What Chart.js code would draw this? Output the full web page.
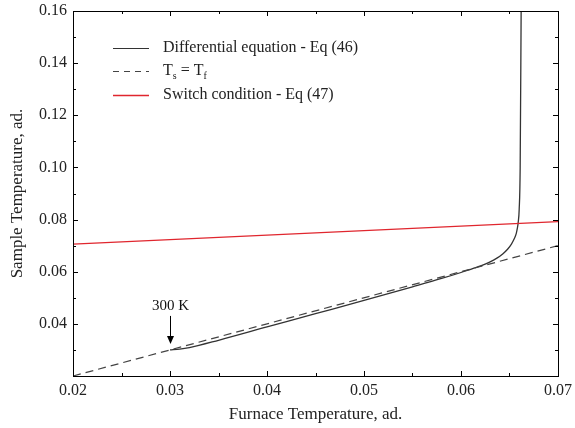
<!DOCTYPE html>
<html><head><meta charset="utf-8">
<script src="https://cdn.jsdelivr.net/npm/chart.js@4/dist/chart.umd.min.js"></script>
<style>html,body{margin:0;padding:0;background:#fff;}canvas{display:block;}</style>
</head><body>
<canvas id="c" width="575" height="428"></canvas>
<script>
// ---- data ----
const xTicks = [0.02, 0.03, 0.04, 0.05, 0.06, 0.07];
const yTicks = [0.04, 0.06, 0.08, 0.10, 0.12, 0.14, 0.16];
const diffX = [0.0300, 0.0310, 0.0320, 0.0350, 0.0400, 0.0450, 0.0500, 0.0550, 0.0580, 0.0600, 0.0612, 0.0621, 0.0629, 0.0637, 0.0643, 0.0648, 0.0652, 0.0655, 0.0657, 0.0658, 0.0659, 0.0660, 0.0661, 0.0662];
const diffY = [0.0300, 0.0303, 0.0309, 0.0337, 0.0388, 0.0439, 0.0490, 0.0542, 0.0574, 0.0597, 0.0612, 0.0623, 0.0636, 0.0652, 0.0668, 0.0686, 0.0706, 0.0727, 0.0747, 0.0765, 0.0790, 0.0840, 0.1000, 0.1600];
const equalX = [0.02, 0.07];
const equalY = [0.02, 0.07];
const switchX = [0.02, 0.07];
const switchY = [0.0706, 0.0792];
const annotPoint = {x: 0.030, y: 0.0300, label: '300 K'};
const legendLabels = ['Differential equation - Eq (46)', 'Ts = Tf', 'Switch condition - Eq (47)'];

const toPts = (xs, ys) => xs.map((x, i) => ({x: x, y: ys[i]}));
const SERIF = '"Liberation Serif", "Times New Roman", serif';

const decor = {
  id: 'decor',
  afterDraw(chart) {
    const ctx = chart.ctx, a = chart.chartArea;
    const xs = chart.scales.x, ys = chart.scales.y;
    ctx.save();
    // frame
    ctx.strokeStyle = '#000'; ctx.lineWidth = 1;
    ctx.strokeRect(Math.round(a.left) + 0.5, Math.round(a.top) + 0.5, Math.round(a.right - a.left), Math.round(a.bottom - a.top));
    // inward ticks
    ctx.beginPath();
    for (let v = 0.02; v <= 0.0701; v += 0.005) {
      const px = Math.round(xs.getPixelForValue(v)) + 0.5;
      const major = Math.abs(Math.round(v * 100) - v * 100) < 1e-6;
      const L = major ? 5 : 3;
      ctx.moveTo(px, a.bottom); ctx.lineTo(px, a.bottom - L);
      ctx.moveTo(px, a.top); ctx.lineTo(px, a.top + L);
    }
    for (let v = 0.02; v <= 0.1601; v += 0.01) {
      const py = Math.round(ys.getPixelForValue(v)) + 0.5;
      const major = Math.round(v * 100) % 2 === 0;
      const L = major ? 5 : 3;
      ctx.moveTo(a.left, py); ctx.lineTo(a.left + L, py);
      ctx.moveTo(a.right, py); ctx.lineTo(a.right - L, py);
    }
    ctx.stroke();

    // annotation arrow
    const ax = Math.round(xs.getPixelForValue(annotPoint.x)) + 0.5;
    const ay = ys.getPixelForValue(annotPoint.y);
    const tipY = ay - 6;
    ctx.strokeStyle = '#000'; ctx.fillStyle = '#000'; ctx.lineWidth = 1;
    ctx.beginPath(); ctx.moveTo(ax, tipY - 28); ctx.lineTo(ax, tipY - 6); ctx.stroke();
    ctx.beginPath(); ctx.moveTo(ax - 3.5, tipY - 8); ctx.lineTo(ax + 3.5, tipY - 8); ctx.lineTo(ax, tipY); ctx.closePath(); ctx.fill();
    ctx.font = '15px ' + SERIF; ctx.textAlign = 'center'; ctx.textBaseline = 'alphabetic';
    ctx.fillStyle = '#111';
    ctx.fillText(annotPoint.label, ax, tipY - 34);

    // legend
    const lx0 = a.left + 40, lx1 = a.left + 76, tx = a.left + 90;
    const rows = [a.top + 37, a.top + 60, a.top + 84];
    const styles = [
      {c: '#333', d: [], w: 1.2},
      {c: '#444', d: [6, 5], w: 1.2},
      {c: '#e0262e', d: [], w: 1.5}
    ];
    ctx.textAlign = 'left'; ctx.textBaseline = 'middle';
    rows.forEach((ry, i) => {
      ctx.beginPath(); ctx.setLineDash(styles[i].d); ctx.strokeStyle = styles[i].c; ctx.lineWidth = styles[i].w;
      ctx.moveTo(lx0, ry + 0.5); ctx.lineTo(lx1, ry + 0.5); ctx.stroke();
      ctx.setLineDash([]);
      ctx.fillStyle = '#222';
      if (i === 1) {
        let x = tx;
        const big = '16px ' + SERIF, small = '10px ' + SERIF;
        ctx.font = big; ctx.fillText('T', x, ry); x += ctx.measureText('T').width;
        ctx.font = small; ctx.fillText('s', x, ry + 5); x += ctx.measureText('s').width;
        ctx.font = big; ctx.fillText(' = T', x, ry); x += ctx.measureText(' = T').width;
        ctx.font = small; ctx.fillText('f', x, ry + 5);
      } else {
        ctx.font = '16px ' + SERIF;
        ctx.fillText(legendLabels[i], tx, ry);
      }
    });
    ctx.restore();
  }
};

new Chart(document.getElementById('c'), {
  type: 'scatter',
  data: {
    datasets: [
      {label: legendLabels[1], data: toPts(equalX, equalY), showLine: true, borderColor: '#444', borderWidth: 1.2, borderDash: [8, 5], pointRadius: 0, fill: false},
      {label: legendLabels[2], data: toPts(switchX, switchY), showLine: true, borderColor: '#e0262e', borderWidth: 1.4, pointRadius: 0, fill: false},
      {label: legendLabels[0], data: toPts(diffX, diffY), showLine: true, borderColor: '#333', borderWidth: 1.3, pointRadius: 0, fill: false, cubicInterpolationMode: 'monotone'}
    ]
  },
  options: {
    responsive: false, animation: false, devicePixelRatio: 1,
    layout: {padding: {top: 11, right: 17, left: 0, bottom: 0}},
    plugins: {legend: {display: false}, tooltip: {enabled: false}},
    scales: {
      x: {
        type: 'linear', min: 0.02, max: 0.07,
        afterBuildTicks: s => { s.ticks = xTicks.map(v => ({value: v})); },
        afterFit: s => { s.height = 52; s.paddingLeft = 0; s.paddingRight = 0; },
        grid: {display: false, drawTicks: false},
        border: {display: false},
        ticks: {color: '#222', padding: 5, font: {family: SERIF, size: 16}, callback: v => v.toFixed(2)},
        title: {display: true, text: 'Furnace Temperature, ad.', color: '#222', font: {family: SERIF, size: 17}, padding: {top: 0, bottom: 3}}
      },
      y: {
        type: 'linear', min: 0.02, max: 0.16,
        afterBuildTicks: s => { s.ticks = yTicks.map(v => ({value: v})); },
        afterFit: s => { s.width = 73; s.paddingTop = 0; s.paddingBottom = 0; },
        grid: {display: false, drawTicks: false},
        border: {display: false},
        ticks: {color: '#222', padding: 6, font: {family: SERIF, size: 16}, callback: v => v.toFixed(2)},
        title: {display: true, text: 'Sample Temperature, ad.', color: '#222', font: {family: SERIF, size: 17}, padding: {top: 7, bottom: 0}}
      }
    }
  },
  plugins: [decor]
});
</script>
</body></html>
